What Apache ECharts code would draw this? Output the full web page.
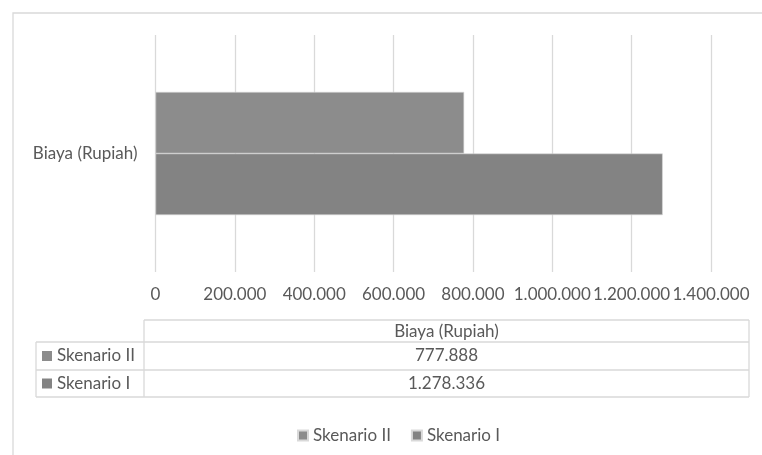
<!DOCTYPE html>
<html>
<head>
<meta charset="utf-8">
<script src="https://cdn.jsdelivr.net/npm/echarts@6/dist/echarts.min.js"></script>
<style>
html,body{margin:0;padding:0;background:#fff;}
#c{width:762px;height:455px;}
</style>
</head>
<body>
<div id="c"></div>
<script>
const categories = ['Biaya (Rupiah)'];
const seriesNames = ['Skenario II', 'Skenario I'];
const skenarioII = [777888];
const skenarioI = [1278336];
const xTicks = [0, 200000, 400000, 600000, 800000, 1000000, 1200000, 1400000];

const colors = { 'Skenario II': '#8c8c8c', 'Skenario I': '#838383' };
const seriesData = { 'Skenario II': skenarioII, 'Skenario I': skenarioI };
const FONT = 'Lato';
const FS = 17;
const TXT = '#595959';
const LINE = '#d9d9d9';

function fmt(v) {
  return String(v).replace(/\B(?=(\d{3})+(?!\d))/g, '.');
}

const chart = echarts.init(document.getElementById('c'), null, { renderer: 'canvas' });

const tblLeft = 36, tblDiv = 144, tblRight = 749;
const rowY = [320, 342, 370, 397];
const graphics = [];
graphics.push({ type: 'rect', shape: { x: 13, y: 13, width: 760, height: 460 }, style: { fill: null, stroke: LINE, lineWidth: 1.3 }, silent: true });
graphics.push({ type: 'line', shape: { x1: tblDiv, y1: rowY[0], x2: tblRight, y2: rowY[0] }, style: { stroke: LINE, lineWidth: 1.3 } });
for (let i = 1; i < rowY.length; i++) {
  graphics.push({ type: 'line', shape: { x1: tblLeft, y1: rowY[i], x2: tblRight, y2: rowY[i] }, style: { stroke: LINE, lineWidth: 1.3 } });
}
graphics.push({ type: 'line', shape: { x1: tblDiv, y1: rowY[0], x2: tblDiv, y2: rowY[3] }, style: { stroke: LINE, lineWidth: 1.3 } });
graphics.push({ type: 'line', shape: { x1: tblRight, y1: rowY[0], x2: tblRight, y2: rowY[3] }, style: { stroke: LINE, lineWidth: 1.3 } });
graphics.push({ type: 'line', shape: { x1: tblLeft, y1: rowY[1], x2: tblLeft, y2: rowY[3] }, style: { stroke: LINE, lineWidth: 1.3 } });
graphics.push({ type: 'text', x: (tblDiv + tblRight) / 2, y: (rowY[0] + rowY[1]) / 2 + 1, style: { text: categories[0], fill: TXT, font: FS + 'px ' + FONT, align: 'center', verticalAlign: 'middle' } });
seriesNames.forEach((name, i) => {
  const cy = (rowY[i + 1] + rowY[i + 2]) / 2;
  graphics.push({ type: 'rect', shape: { x: 42, y: cy - 5, width: 10, height: 10 }, style: { fill: colors[name] } });
  graphics.push({ type: 'text', x: 57, y: cy, style: { text: name, fill: TXT, font: FS + 'px ' + FONT, align: 'left', verticalAlign: 'middle' } });
  graphics.push({ type: 'text', x: (tblDiv + tblRight) / 2, y: cy, style: { text: fmt(seriesData[name][0]), fill: TXT, font: FS + 'px ' + FONT, align: 'center', verticalAlign: 'middle' } });
});

const option = {
  animation: false,
  backgroundColor: '#fff',
  textStyle: { fontFamily: FONT },
  grid: { left: 155.5, right: 51, top: 35, bottom: 183, containLabel: false },
  legend: {
    data: seriesNames,
    bottom: 6,
    left: 292,
    icon: 'rect',
    itemWidth: 10,
    itemHeight: 10,
    itemGap: 20,
    textStyle: { color: TXT, fontSize: FS, fontFamily: FONT },
    selectedMode: false
  },
  xAxis: {
    type: 'value',
    min: xTicks[0],
    max: xTicks[xTicks.length - 1],
    interval: xTicks[1] - xTicks[0],
    axisLine: { show: false },
    axisTick: { show: false },
    splitLine: { show: true, lineStyle: { color: LINE, width: 1.3 } },
    axisLabel: { color: TXT, fontSize: FS, fontFamily: FONT, margin: 14, formatter: v => fmt(v), showMinLabel: true, showMaxLabel: true, hideOverlap: false }
  },
  yAxis: {
    type: 'category',
    data: categories,
    axisLine: { show: false },
    axisTick: { show: false },
    axisLabel: { color: TXT, fontSize: FS, fontFamily: FONT, margin: 18 }
  },
  series: seriesNames.map(name => ({
    name: name,
    type: 'bar',
    data: seriesData[name],
    barGap: '0%',
    barCategoryGap: '48%',
    itemStyle: { color: colors[name], borderColor: '#d9d9d9', borderWidth: 0.6 }
  })),
  graphic: graphics
};
chart.setOption(option);
</script>
</body>
</html>
